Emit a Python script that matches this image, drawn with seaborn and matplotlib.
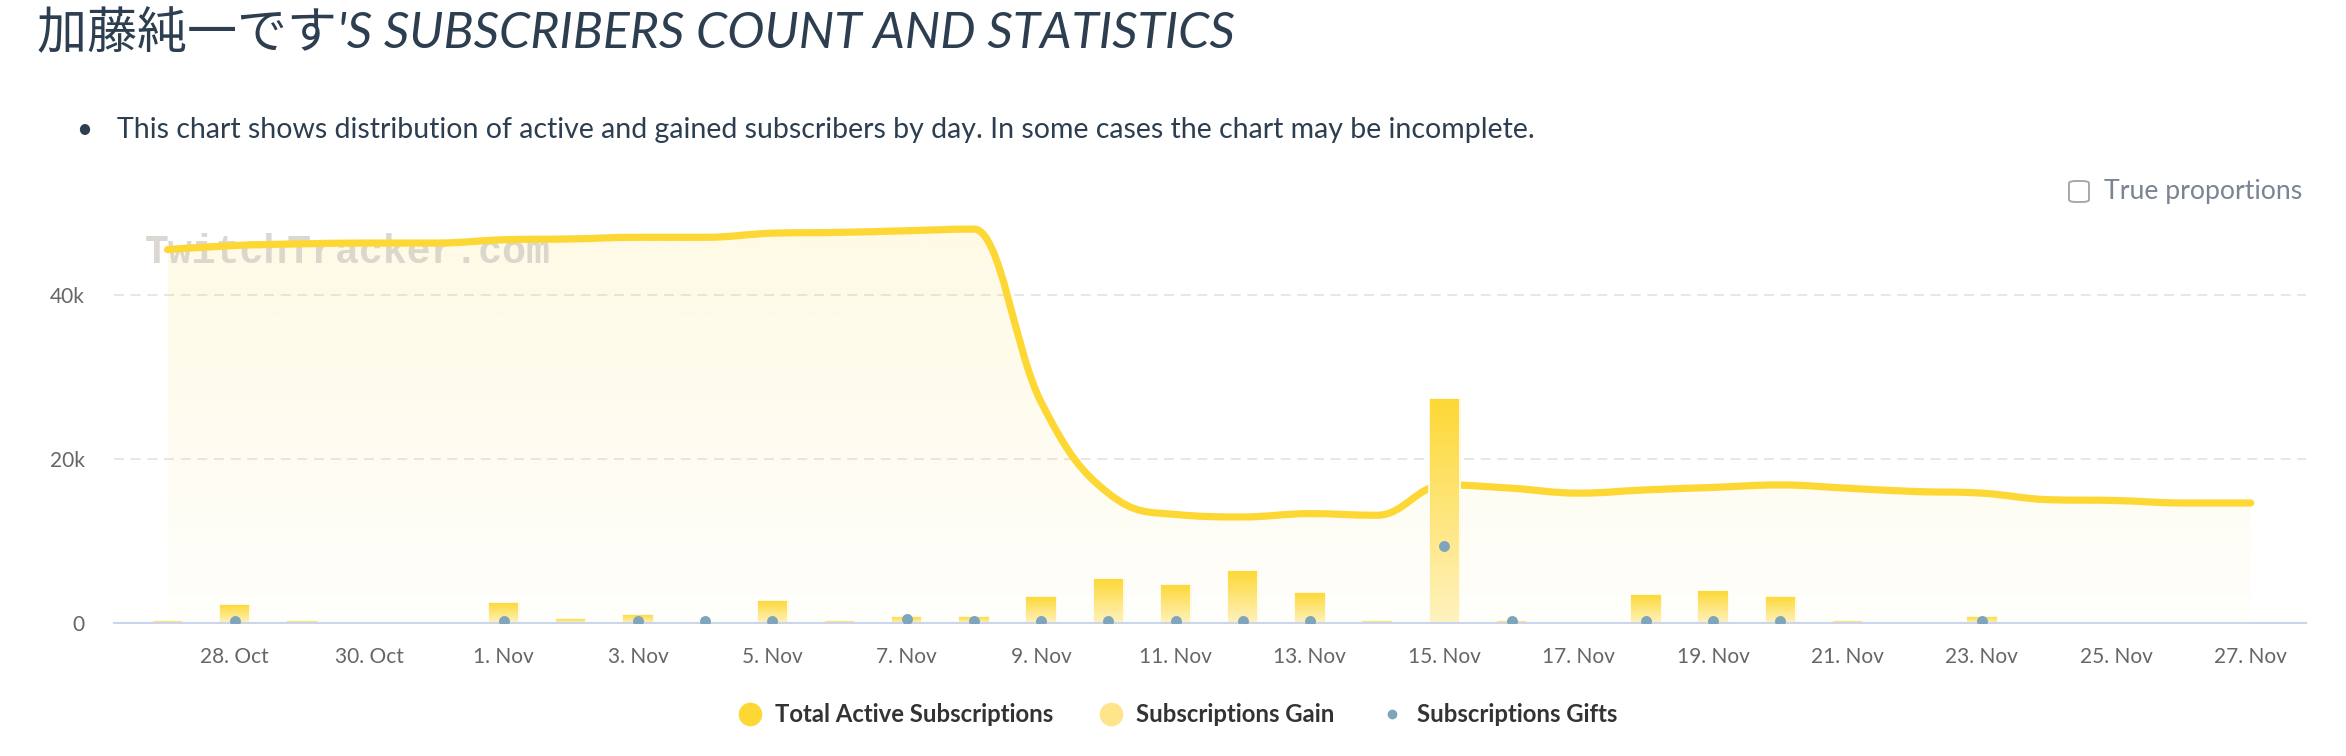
import numpy as np
import pandas as pd
import matplotlib
matplotlib.use("Agg")
import matplotlib.pyplot as plt
import matplotlib.dates as mdates
from matplotlib.path import Path
from matplotlib.patches import PathPatch, FancyBboxPatch
from matplotlib.lines import Line2D
from matplotlib.colors import to_rgb
import seaborn as sns

# Data (one value per day, NaN = nothing drawn)
days = pd.date_range("2020-10-27", "2020-11-27", freq="D")

total_active = [45500, 46000, 46200, 46300, 46300, 46700, 46800, 47000, 47000, 47500,
                47600, 47800, 48000, 26900, 15800, 13200, 12900, 13300, 13100, 16800,
                16400, 15800, 16200, 16500, 16800, 16400, 16000, 15800, 15000, 14900,
                14600, 14600]

subs_gain = [300, 2300, 300, np.nan, np.nan, 2500, 550, 1050, np.nan, 2750,
             300, 800, 800, 3250, 5450, 4700, 6400, 3750, 300, 27350,
             300, np.nan, 3500, 4000, 3250, 300, np.nan, 800, np.nan, np.nan,
             np.nan, np.nan]

subs_gifts = [np.nan, 250, np.nan, np.nan, np.nan, 250, np.nan, 250, 250, 250,
              np.nan, 500, 250, 250, 250, 250, 250, 250, np.nan, 9400,
              250, np.nan, 250, 250, 250, np.nan, np.nan, 250, np.nan, np.nan,
              np.nan, np.nan]

tick_days = pd.date_range("2020-10-28", "2020-11-27", freq="2D")
tick_labels = [f"{d.day}. {d.strftime('%b')}" for d in tick_days]
y_ticks = [0, 20000, 40000]
y_labels = ["0", "20k", "40k"]

title = "加藤純一です'S SUBSCRIBERS COUNT AND STATISTICS"
note = "This chart shows distribution of active and gained subscribers by day. In some cases the chart may be incomplete."
series_names = ["Total Active Subscriptions", "Subscriptions Gain", "Subscriptions Gifts"]

LINE = "#fdd835"
GAIN_LIGHT = "#fff2bf"
GIFT = "#7fa5bd"
TEXT = "#2c3e50"

W, H = 2346, 756

sns.set_theme(style="white")
plt.rcParams["font.family"] = ["Lato", "Noto Sans CJK JP", "DejaVu Sans"]

fig = plt.figure(figsize=(W / 100, H / 100), dpi=100)
# plot area in pixels: x 114..2306, y 163.5..622.7
PX_L, PX_R = 114, 2306
ax = fig.add_axes([PX_L / W, (H - 622.7) / H, (PX_R - PX_L) / W, (622.7 - 163.5) / H])

x = mdates.date2num(days)
df = pd.DataFrame({"x": x, "active": total_active, "gain": subs_gain, "gifts": subs_gifts})


def spline_path(xs, ys, smoothing=1.5):
    # highcharts-style spline control points
    xs = np.asarray(xs, float)
    ys = np.asarray(ys, float)
    n = len(xs)
    den = smoothing + 1
    left = list(zip(xs, ys))
    right = list(zip(xs, ys))
    for i in range(1, n - 1):
        lcx = (smoothing * xs[i] + xs[i - 1]) / den
        lcy = (smoothing * ys[i] + ys[i - 1]) / den
        rcx = (smoothing * xs[i] + xs[i + 1]) / den
        rcy = (smoothing * ys[i] + ys[i + 1]) / den
        corr = (rcy - lcy) * (rcx - xs[i]) / (rcx - lcx) + ys[i] - rcy
        lcy += corr
        rcy += corr
        if lcy > ys[i - 1] and lcy > ys[i]:
            lcy = max(ys[i - 1], ys[i]); rcy = 2 * ys[i] - lcy
        elif lcy < ys[i - 1] and lcy < ys[i]:
            lcy = min(ys[i - 1], ys[i]); rcy = 2 * ys[i] - lcy
        if rcy > ys[i + 1] and rcy > ys[i]:
            rcy = max(ys[i + 1], ys[i]); lcy = 2 * ys[i] - rcy
        elif rcy < ys[i + 1] and rcy < ys[i]:
            rcy = min(ys[i + 1], ys[i]); lcy = 2 * ys[i] - rcy
        left[i] = (lcx, lcy)
        right[i] = (rcx, rcy)
    verts = [(xs[0], ys[0])]
    codes = [Path.MOVETO]
    for i in range(1, n):
        verts += [right[i - 1], left[i], (xs[i], ys[i])]
        codes += [Path.CURVE4] * 3
    return verts, codes


# gain bars first so the container is the only one
gain_df = df.dropna(subset=["gain"])
sns.barplot(data=gain_df, x="x", y="gain", native_scale=True, width=0.47,
            color=LINE, errorbar=None, ax=ax, zorder=4)
bars = list(ax.containers[0])

verts, codes = spline_path(df["x"], df["active"])

# area under the line with a soft vertical gradient
area = PathPatch(Path(verts + [(x[-1], 0), (x[0], 0), (x[0], 0)],
                      codes + [Path.LINETO, Path.LINETO, Path.CLOSEPOLY]),
                 facecolor="none", edgecolor="none", zorder=1)
ax.add_patch(area)
r, g, b = to_rgb(LINE)
grad = np.zeros((256, 1, 4))
grad[:, 0, 0], grad[:, 0, 1], grad[:, 0, 2] = r, g, b
grad[:, 0, 3] = np.linspace(0.13, 0.02, 256)
im = ax.imshow(grad, extent=[x[0], x[-1], 0, max(total_active)], aspect="auto",
               origin="upper", zorder=1, interpolation="bilinear")
im.set_clip_path(area)

ax.add_patch(PathPatch(Path(verts, codes), fill=False, edgecolor=LINE, lw=5.2,
                       capstyle="round", joinstyle="round", zorder=3))

c_top = np.array(to_rgb(LINE))
c_bot = np.array(to_rgb(GAIN_LIGHT))
for bar in bars:
    bx, by = bar.get_x(), bar.get_y()
    bw, bh = bar.get_width(), bar.get_height()
    if not bh > 0:
        continue
    t = np.linspace(0, 1, 128)[:, None]
    col = c_top * (1 - t) + c_bot * t
    img = ax.imshow(col[:, None, :], extent=[bx, bx + bw, by, by + bh], aspect="auto",
                    origin="upper", zorder=4, interpolation="bilinear")
    img.set_clip_path(bar)
    bar.set_facecolor("none")
    bar.set_edgecolor("white")
    bar.set_linewidth(1.2)
    bar.set_zorder(4.2)

# gifts
gift_df = df.dropna(subset=["gifts"])
sns.scatterplot(data=gift_df, x="x", y="gifts", color=GIFT, s=62, linewidth=0,
                zorder=6, ax=ax, legend=False)

ax.set_xlim(mdates.date2num(tick_days[0]) - (234.7 - PX_L) / 67.2,
            mdates.date2num(tick_days[0]) + (PX_R - 234.7) / 67.2)
ax.set_ylim(0, 56000)

ax.set_xticks(mdates.date2num(tick_days))
ax.set_xticklabels(tick_labels)
ax.set_yticks(y_ticks)
ax.set_yticklabels(y_labels)
ax.set_xlabel("")
ax.set_ylabel("")
ax.tick_params(axis="x", length=13.7, width=1, color="#ccd6eb", labelcolor="#666666",
               labelsize=15, pad=4)
ax.tick_params(axis="y", length=0, labelcolor="#666666", labelsize=15, pad=21)

for side in ["top", "right", "left"]:
    ax.spines[side].set_visible(False)
ax.spines["bottom"].set_color("#ccd6eb")
ax.spines["bottom"].set_linewidth(1.5)
ax.spines["bottom"].set_zorder(5)
ax.set_axisbelow(True)
ax.yaxis.grid(True, color="#e3e3e3", linestyle=(0, (6, 4)), lw=1.2)
ax.xaxis.grid(False)
ax.patch.set_alpha(0)

# watermark
ax.text(145 / W, 1 - 252 / H, "TwitchTracker.com", transform=fig.transFigure,
        family="Liberation Mono", weight="bold", fontsize=28.7, color="#cfccc4",
        alpha=0.75, va="center", ha="left", zorder=2)

# title and note
fig.text(37 / W, 1 - 48 / H, title, fontsize=36, style="italic", color=TEXT,
         ha="left", va="baseline")
fig.text(84 / W, 1 - 130 / H, "•", fontsize=20, color=TEXT, ha="center", va="center")
fig.text(117 / W, 1 - 130 / H, note, fontsize=20.5, color=TEXT, ha="left", va="center")

# "True proportions" checkbox
fig.patches.append(FancyBboxPatch((2069 / W, 1 - 202 / H), 20 / W, 21 / H,
                                  boxstyle="round,pad=0,rounding_size=0.003",
                                  transform=fig.transFigure, facecolor="white",
                                  edgecolor="#a8a8a8", lw=1.4))
fig.text(2104 / W, 1 - 192 / H, "True proportions", fontsize=19.2, color="#7b8494",
         ha="left", va="center")

handles = [
    Line2D([], [], ls="", marker="o", markersize=16, markerfacecolor=LINE, markeredgecolor=LINE),
    Line2D([], [], ls="", marker="o", markersize=16, markerfacecolor="#fee48a", markeredgecolor="#fee48a"),
    Line2D([], [], ls="", marker="o", markersize=6, markerfacecolor=GIFT, markeredgecolor=GIFT),
]
fig.legend(handles, series_names, loc="center", bbox_to_anchor=(0.502, 1 - 715 / H),
           ncol=3, frameon=False, prop={"size": 17.2, "weight": "bold"},
           labelcolor="#333333", handlelength=1.0, handletextpad=0.55, columnspacing=1.9)

fig.savefig("out.png", dpi=100)
